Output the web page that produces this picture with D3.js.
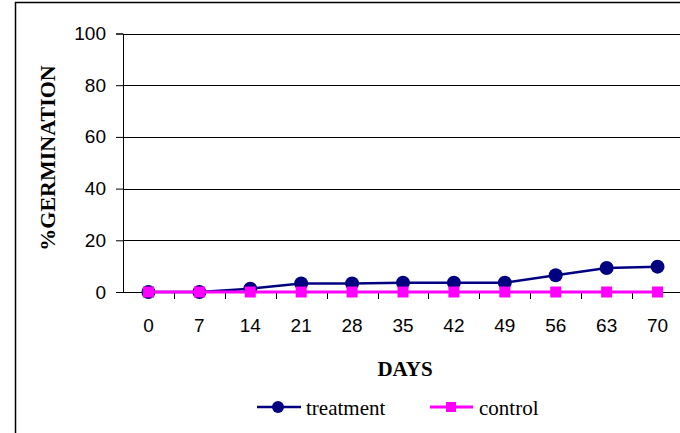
<!DOCTYPE html>
<html>
<head>
<meta charset="utf-8">
<script src="https://cdn.jsdelivr.net/npm/d3@7"></script>
<style>
  html, body { margin: 0; padding: 0; background: #fff; }
  svg { display: block; }
</style>
</head>
<body>
<svg id="chart" width="680" height="433"></svg>
<script>
// Germination over time, treatment vs control
const days = ["0", "7", "14", "21", "28", "35", "42", "49", "56", "63", "70"];
const treatment = [0, 0, 1.3, 3.3, 3.3, 3.6, 3.6, 3.6, 6.5, 9.3, 9.8];
const control = [0, 0, 0, 0, 0, 0, 0, 0, 0, 0, 0];
const yTicks = [0, 20, 40, 60, 80, 100];

const SERIF = "'Liberation Serif', 'Times New Roman', serif";
const SANS = "'Liberation Sans', Arial, sans-serif";

const svg = d3.select("#chart");
const plot = { left: 123, right: 683, top: 33.5, bottom: 292 };

// Outer frame
svg.append("rect")
  .attr("x", 15.5).attr("y", 2.5)
  .attr("width", 700).attr("height", 500)
  .attr("fill", "none").attr("stroke", "#000").attr("stroke-width", 1.5);

const x = d3.scaleBand().domain(days).range([plot.left, plot.right]).padding(0);
const y = d3.scaleLinear().domain([0, 100]).range([plot.bottom, plot.top]);

// Horizontal gridlines
svg.append("g")
  .selectAll("line")
  .data(yTicks.filter(d => d > 0))
  .join("line")
  .attr("x1", plot.left).attr("x2", plot.right)
  .attr("y1", d => Math.round(y(d)) + 0.5).attr("y2", d => Math.round(y(d)) + 0.5)
  .attr("stroke", "#000").attr("stroke-width", 1);

// Y axis
const yAxis = svg.append("g")
  .attr("transform", `translate(${plot.left},0)`)
  .call(d3.axisLeft(y).tickValues(yTicks).tickSize(7).tickPadding(10).tickFormat(d3.format("d")));
yAxis.select(".domain").attr("stroke", "#000");
yAxis.selectAll(".tick line").attr("stroke", "#000");
yAxis.selectAll(".tick text")
  .attr("font-family", SANS)
  .attr("font-size", 19).attr("fill", "#000");

// X axis: ticks at category boundaries, labels centred in each band
const xAxisG = svg.append("g").attr("transform", `translate(0,${plot.bottom})`);
xAxisG.append("line")
  .attr("x1", plot.left).attr("x2", plot.right)
  .attr("y1", 0.5).attr("y2", 0.5)
  .attr("stroke", "#000");
xAxisG.selectAll("line.tick")
  .data(days.slice(1))
  .join("line")
  .attr("class", "tick")
  .attr("x1", d => Math.round(x(d)) + 0.5).attr("x2", d => Math.round(x(d)) + 0.5)
  .attr("y1", 0).attr("y2", 7)
  .attr("stroke", "#000");
xAxisG.selectAll("text")
  .data(days)
  .join("text")
  .attr("x", d => x(d) + x.bandwidth() / 2)
  .attr("y", 40)
  .attr("text-anchor", "middle")
  .attr("font-family", SANS)
  .attr("font-size", 19)
  .text(d => d);

// Axis titles
svg.append("text")
  .attr("x", 405).attr("y", 376)
  .attr("text-anchor", "middle")
  .attr("font-family", SERIF)
  .attr("font-weight", "bold").attr("font-size", 21)
  .text("DAYS");
svg.append("text")
  .attr("transform", "translate(55,158) rotate(-90)")
  .attr("text-anchor", "middle")
  .attr("font-family", SERIF)
  .attr("font-weight", "bold").attr("font-size", 22)
  .text("%GERMINATION");

const cx = d => x(d) + x.bandwidth() / 2;
const line = d3.line().x(d => cx(d.day)).y(d => y(d.v));

const treatData = days.map((d, i) => ({ day: d, v: treatment[i] }));
const ctrlData = days.map((d, i) => ({ day: d, v: control[i] }));

// Treatment series
svg.append("path").datum(treatData)
  .attr("d", line).attr("fill", "none")
  .attr("stroke", "#000080").attr("stroke-width", 2.5);
svg.append("g").selectAll("circle")
  .data(treatData).join("circle")
  .attr("cx", d => cx(d.day)).attr("cy", d => y(d.v)).attr("r", 7)
  .attr("fill", "#000080");

// Control series
svg.append("path").datum(ctrlData)
  .attr("d", line).attr("fill", "none")
  .attr("stroke", "#FF00FF").attr("stroke-width", 3);
svg.append("g").selectAll("rect")
  .data(ctrlData).join("rect")
  .attr("x", d => cx(d.day) - 5.5).attr("y", d => y(d.v) - 5.5)
  .attr("width", 11).attr("height", 11)
  .attr("fill", "#FF00FF");

// Legend
const legend = svg.append("g");
const ly = 407;
legend.append("line").attr("x1", 257).attr("x2", 301).attr("y1", ly).attr("y2", ly)
  .attr("stroke", "#000080").attr("stroke-width", 2.5);
legend.append("circle").attr("cx", 278).attr("cy", ly).attr("r", 6).attr("fill", "#000080");
legend.append("text").attr("x", 306).attr("y", 415)
  .attr("font-family", SERIF).attr("font-size", 21).text("treatment");
legend.append("line").attr("x1", 430).attr("x2", 473).attr("y1", ly).attr("y2", ly)
  .attr("stroke", "#FF00FF").attr("stroke-width", 3);
legend.append("rect").attr("x", 446).attr("y", ly - 5).attr("width", 10).attr("height", 10).attr("fill", "#FF00FF");
legend.append("text").attr("x", 479).attr("y", 415)
  .attr("font-family", SERIF).attr("font-size", 21).text("control");
</script>
</body>
</html>
